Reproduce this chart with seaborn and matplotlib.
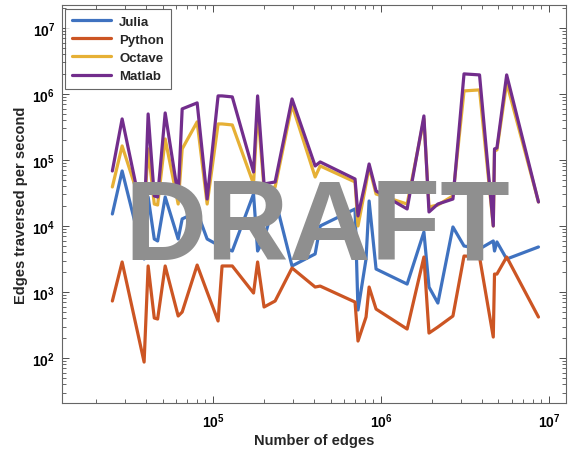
import numpy as np
import pandas as pd
import matplotlib
matplotlib.use("Agg")
import matplotlib.pyplot as plt
import matplotlib.ticker as mticker
import seaborn as sns

# number of edges per test graph
edges = [2.51e4, 2.87e4, 3.88e4, 4.10e4, 4.46e4, 4.67e4, 5.18e4, 6.19e4, 6.54e4,
         8.03e4, 9.21e4, 1.07e5, 1.13e5, 1.30e5, 1.74e5, 1.84e5, 2.01e5, 2.34e5,
         2.95e5, 4.05e5, 4.34e5, 7.00e5, 7.29e5, 8.14e5, 8.49e5, 9.34e5, 1.43e6,
         1.80e6, 1.93e6, 2.18e6, 2.68e6, 3.12e6, 3.86e6, 4.66e6, 4.74e6, 4.90e6,
         5.60e6, 8.66e6]

# edges traversed per second
julia = [15200, 68100, 3160, 27500, 6350, 5930, 27500, 6350, 12800,
         16300, 6350, 5150, 4810, 4180, 30500, 4180, 6350, 25600,
         2480, 3770, 10000, 18100, 534, 3160, 23900, 2230, 1320,
         8110, 1190, 681, 9660, 4980, 4490, 5930, 4180, 5730,
         3160, 4810]
python = [731, 2850, 86.9, 2480, 404, 390, 2480, 433, 498,
          2560, 1000, 364, 2480, 2480, 966, 2850, 593, 731,
          2310, 1190, 1230, 705, 181, 418, 1190, 552, 275,
          3390, 239, 295, 433, 3510, 3390, 208, 1870, 1870,
          3390, 418]
octave = [39000, 163000, 15200, 147000, 21500, 20800, 208000, 21500, 147000,
          377000, 21500, 351000, 351000, 339000, 43300, 593000, 36400, 39000,
          681000, 55200, 81100, 46400, 10000, 43300, 78300, 30500, 21500,
          418000, 19400, 20800, 28500, 1.11e6, 1.15e6, 10000, 137000, 142000,
          1.47e6, 23100]
matlab = [68100, 418000, 10700, 497000, 28500, 27500, 515000, 28500, 593000,
          731000, 25600, 933000, 933000, 901000, 65800, 933000, 43300, 46400,
          839000, 81100, 93300, 51500, 14200, 51500, 86900, 33900, 18100,
          464000, 16300, 21500, 25600, 2.01e6, 1.94e6, 10000, 147000, 152000,
          1.94e6, 23100]

langs = ["Julia", "Python", "Octave", "Matlab"]
colors = ["#3F72C0", "#CC5523", "#E6B035", "#722D8C"]
xticks = [1e5, 1e6, 1e7]
yticks = [1e2, 1e3, 1e4, 1e5, 1e6, 1e7]

df = pd.concat([
    pd.DataFrame({"edges": edges, "eps": vals, "lang": name})
    for name, vals in zip(langs, [julia, python, octave, matlab])
])

sns.set_theme(style="ticks")
plt.rcParams["font.family"] = ["Liberation Sans", "DejaVu Sans"]
plt.rcParams["mathtext.fontset"] = "custom"
plt.rcParams["mathtext.rm"] = "Liberation Sans:bold"
plt.rcParams["mathtext.bf"] = "Liberation Sans:bold"

fig = plt.figure(figsize=(5.75, 4.52), dpi=100)
ax = fig.add_axes([0.108, 0.106, 0.876, 0.881])

sns.lineplot(data=df, x="edges", y="eps", hue="lang", hue_order=langs,
             palette=colors, linewidth=2.3, sort=False, estimator=None, ax=ax)

ax.set_xscale("log")
ax.set_yscale("log")
ax.set_xlim(1.26e4, 1.26e7)
ax.set_ylim(20.8, 2.23e7)

ax.xaxis.set_major_locator(mticker.FixedLocator(xticks))
ax.yaxis.set_major_locator(mticker.FixedLocator(yticks))
for a in (ax.xaxis, ax.yaxis):
    a.set_minor_locator(mticker.LogLocator(base=10, subs=np.arange(2, 10), numticks=100))
    a.set_minor_formatter(mticker.NullFormatter())
    a.set_major_formatter(mticker.FuncFormatter(
        lambda v, p: r"$\mathbf{10^{%d}}$" % round(np.log10(v))))

ax.tick_params(which="both", direction="in", top=True, right=True,
               colors="0.3", labelcolor="black", labelsize=10)
ax.tick_params(which="major", length=5, width=0.7)
ax.tick_params(which="minor", length=2.8, width=0.6)
ax.tick_params(axis="x", which="major", pad=6)
ax.tick_params(axis="y", which="major", pad=5)
for sp in ax.spines.values():
    sp.set_color("0.4")
    sp.set_linewidth(0.8)

ax.set_xlabel("Number of edges", fontsize=10.5, fontweight="bold", labelpad=2)
ax.set_ylabel("Edges traversed per second", fontsize=10.5, fontweight="bold",
              labelpad=3)

leg = ax.legend(loc="upper left", fontsize=9.5, frameon=True, fancybox=False,
                handlelength=3.0, handletextpad=0.6, borderpad=0.5,
                labelspacing=0.45, borderaxespad=0,
                bbox_to_anchor=(0.006, 0.99))
leg.get_frame().set_edgecolor("0.25")
leg.get_frame().set_linewidth(0.8)
for t in leg.get_texts():
    t.set_fontweight("bold")

ax.text(0.506, 0.362, "DRAFT", transform=ax.transAxes, ha="center", va="baseline",
        fontsize=82, fontweight="bold", color="0.56", zorder=10)

fig.savefig("out.png", dpi=100)
